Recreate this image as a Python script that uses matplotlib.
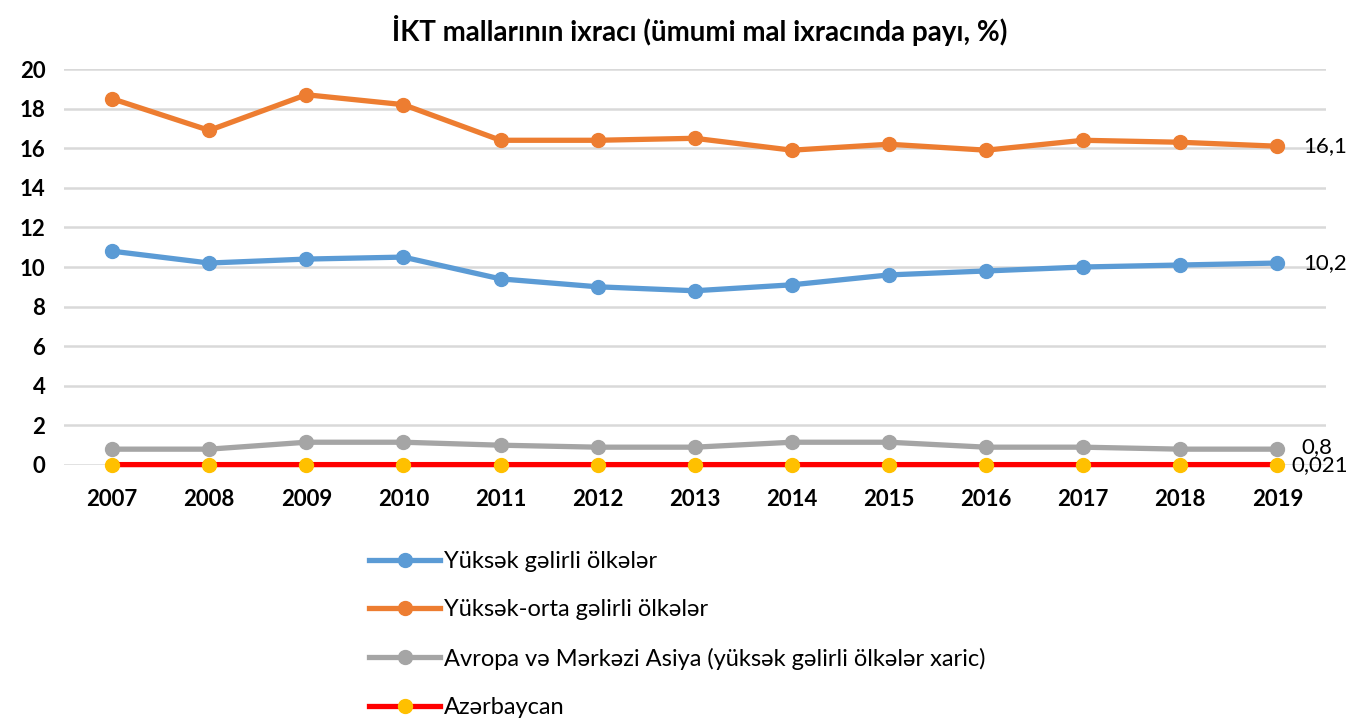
import matplotlib.pyplot as plt
from matplotlib import font_manager

# Lato is the closest installed family to Calibri
names = {f.name for f in font_manager.fontManager.ttflist}
fam = 'Lato' if 'Lato' in names else 'DejaVu Sans'
plt.rcParams['font.family'] = [fam, 'DejaVu Sans']

years = list(range(2007, 2020))
yuksek = [10.8, 10.2, 10.4, 10.5, 9.4, 9.0, 8.8, 9.1, 9.6, 9.8, 10.0, 10.1, 10.2]
yuksek_orta = [18.5, 16.9, 18.7, 18.2, 16.4, 16.4, 16.5, 15.9, 16.2, 15.9, 16.4, 16.3, 16.1]
avropa = [0.8, 0.8, 1.15, 1.15, 1.0, 0.9, 0.9, 1.15, 1.15, 0.9, 0.9, 0.8, 0.8]
azerbaycan = [0.02, 0.02, 0.02, 0.02, 0.02, 0.02, 0.02, 0.02, 0.02, 0.02, 0.02, 0.02, 0.021]

labels = ['Yüksək gəlirli ölkələr', 'Yüksək-orta gəlirli ölkələr',
          'Avropa və Mərkəzi Asiya (yüksək gəlirli ölkələr xaric)', 'Azərbaycan']
last_labels = ['10,2', '16,1', '0,8', '0,021']

fig = plt.figure(figsize=(13.54, 7.25), dpi=100)
ax = fig.add_axes([63.5 / 1354, 1 - 465 / 725, (1326 - 63.5) / 1354, (465 - 69) / 725])

series = [
    (yuksek, '#5B9BD5', '#5B9BD5'),
    (yuksek_orta, '#ED7D31', '#ED7D31'),
    (avropa, '#A5A5A5', '#A5A5A5'),
    (azerbaycan, '#FF0000', '#FFC000'),
]
for (vals, lc, mc), lab in zip(series, labels):
    ax.plot(years, vals, color=lc, lw=3.8, marker='o', ms=10,
            mfc=mc, mec=mc, label=lab, clip_on=False, zorder=3)

# value labels at the last point
offsets = [(0.27, 0), (0.27, 0), (0.25, 0.1), (0.14, -0.05)]
for (vals, _, _), txt, (dx, dy) in zip(series, last_labels, offsets):
    ax.text(years[-1] + dx, vals[-1] + dy, txt, fontsize=16,
            va='center', ha='left', clip_on=False, zorder=4)

ax.set_xlim(2006.5, 2019.5)
ax.set_ylim(0, 20)
ax.set_yticks(range(0, 21, 2))
ax.set_xticks(years)
ax.grid(axis='y', color='#D9D9D9', lw=1.8)
ax.set_axisbelow(True)
for s in ax.spines.values():
    s.set_visible(False)
ax.tick_params(length=0, labelsize=16, pad=17)
ax.tick_params(axis='y', pad=13)
for t in ax.get_xticklabels() + ax.get_yticklabels():
    t.set_fontweight('bold')

fig.text(0.517, 1 - 30 / 725, 'İKT mallarının ixracı (ümumi mal ixracında payı, %)',
         ha='center', va='center', fontsize=20, fontweight='bold')

fig.legend(loc='upper left', bbox_to_anchor=(348 / 1354, 1 - 530 / 725),
           frameon=False, fontsize=17, labelspacing=1.15, handlelength=3.0,
           handletextpad=0.15)

fig.savefig('out.png', dpi=100)
